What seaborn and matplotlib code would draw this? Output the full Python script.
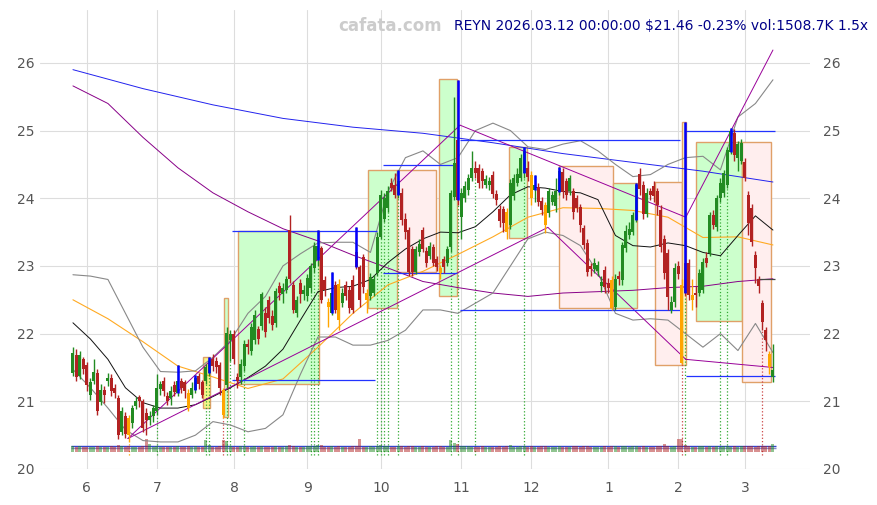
import matplotlib
matplotlib.use('Agg')
import matplotlib.pyplot as plt
from matplotlib.patches import Rectangle
import numpy as np
import seaborn as sns

# Daily OHLC, trading-day index 0 = 2025-05-27 ... 200 = 2026-03-12
opens = [21.42, 21.69, 21.38, 21.62, 21.54, 21.10, 21.30, 21.42, 20.99, 21.17,
         21.30, 21.35, 21.20, 21.05, 20.55, 20.78, 20.75, 20.68, 20.93, 21.06,
         21.00, 20.83, 20.73, 20.78, 20.85, 21.18, 21.30, 21.08, 21.05, 21.24,
         21.13, 21.30, 21.28, 21.13, 21.10, 21.17, 21.38, 21.28, 21.30, 21.42,
         21.62, 21.60, 21.53, 21.17, 21.24, 21.90, 21.99, 21.36, 21.36, 21.52,
         21.84, 21.75, 21.90, 22.07, 22.12, 22.31, 22.50, 22.26, 22.15, 22.70,
         22.58, 22.65, 23.53, 22.72, 22.30, 22.75, 22.58, 22.55, 22.68, 22.97,
         23.09, 23.27, 22.79, 22.46, 22.31, 22.72, 22.74, 22.45, 22.72, 22.65,
         22.79, 23.20, 22.98, 23.13, 22.50, 22.55, 22.60, 22.90, 23.43, 23.70,
         23.85, 24.22, 24.20, 24.05, 24.08, 23.70, 23.53, 23.25, 22.91, 23.20,
         23.53, 23.22, 23.15, 23.28, 23.10, 22.97, 23.10, 23.05, 23.28, 24.02,
         24.86, 23.73, 24.00, 24.12, 24.30, 24.45, 24.45, 24.40, 24.20, 24.20,
         24.35, 24.07, 23.84, 23.84, 23.80, 23.60, 24.03, 24.23, 24.30, 24.38,
         24.44, 24.35, 24.12, 24.17, 23.96, 23.90, 23.78, 23.95, 23.88, 24.09,
         24.39, 24.25, 24.10, 24.10, 24.00, 23.87, 23.56, 23.34, 23.00, 22.95,
         22.92, 22.70, 22.94, 22.75, 22.79, 22.40, 22.85, 22.79, 23.27, 23.45,
         23.50, 23.68, 24.36, 24.20, 23.77, 24.10, 24.18, 24.10, 23.83, 23.40,
         23.19, 22.35, 22.47, 23.00, 22.72, 23.05, 23.05, 22.50, 22.60, 22.60,
         22.65, 23.12, 23.19, 23.76, 23.58, 24.00, 24.08, 24.20, 24.69, 24.97,
         24.60, 24.55, 24.54, 24.05, 23.86, 23.16, 22.80, 22.45, 22.06, 21.70,
         21.36]
closes = [21.72, 21.36, 21.69, 21.47, 21.24, 21.29, 21.44, 20.85, 21.17, 21.10,
          21.35, 21.15, 21.12, 20.50, 20.85, 20.52, 20.50, 20.90, 21.00, 21.00,
          20.60, 20.73, 20.78, 20.90, 21.20, 21.25, 21.15, 21.00, 21.15, 21.14,
          21.30, 21.20, 21.15, 20.90, 21.20, 21.35, 21.25, 21.10, 21.50, 21.60,
          21.52, 21.50, 21.20, 20.80, 22.01, 22.00, 21.62, 21.30, 21.55, 21.84,
          21.80, 22.10, 22.28, 21.92, 22.58, 22.02, 22.23, 22.13, 22.63, 22.60,
          22.68, 22.80, 22.80, 22.35, 22.50, 22.58, 22.65, 22.82, 23.00, 23.30,
          23.30, 22.50, 22.65, 22.40, 22.60, 22.35, 22.20, 22.60, 22.55, 22.38,
          22.35, 22.99, 22.50, 22.69, 22.60, 22.84, 22.80, 23.43, 24.05, 24.00,
          24.10, 24.15, 24.05, 24.25, 23.68, 23.50, 22.91, 22.91, 23.25, 23.33,
          23.25, 23.05, 23.30, 23.05, 22.98, 22.90, 22.98, 23.25, 24.08, 24.52,
          23.98, 24.08, 24.18, 24.30, 24.44, 24.37, 24.22, 24.25, 24.28, 24.25,
          24.07, 23.98, 23.66, 23.63, 23.50, 24.23, 24.30, 24.36, 24.60, 24.70,
          24.32, 24.00, 24.20, 23.95, 23.82, 23.60, 24.10, 24.05, 24.10, 24.40,
          24.09, 24.05, 24.30, 23.80, 23.85, 23.61, 23.31, 22.91, 22.95, 23.05,
          23.02, 22.77, 22.69, 22.68, 22.38, 22.80, 22.80, 23.31, 23.52, 23.55,
          23.75, 24.20, 24.13, 23.77, 24.08, 24.05, 24.03, 23.90, 23.28, 22.90,
          22.54, 22.47, 22.97, 22.88, 21.57, 22.60, 22.57, 22.57, 22.57, 22.90,
          23.06, 23.04, 23.76, 23.61, 24.00, 24.22, 24.37, 24.71, 25.00, 24.64,
          24.80, 24.82, 24.30, 23.64, 23.36, 22.97, 22.70, 22.17, 21.90, 21.51,
          21.46]
highs = [21.80, 21.78, 21.75, 21.66, 21.58, 21.35, 21.62, 21.48, 21.25, 21.22,
         21.42, 21.40, 21.26, 21.10, 20.92, 20.84, 20.80, 20.95, 21.06, 21.10,
         21.04, 20.90, 20.85, 20.95, 21.40, 21.30, 21.36, 21.14, 21.22, 21.30,
         21.54, 21.35, 21.32, 21.18, 21.28, 21.39, 21.42, 21.32, 21.55, 21.66,
         21.70, 21.65, 21.58, 21.20, 22.10, 22.05, 22.05, 21.42, 21.62, 21.90,
         21.92, 22.15, 22.35, 22.12, 22.62, 22.40, 22.55, 22.35, 22.68, 22.76,
         22.75, 22.85, 23.75, 22.78, 22.55, 22.80, 22.72, 22.88, 23.05, 23.35,
         23.53, 23.30, 22.85, 22.52, 22.91, 22.78, 22.80, 22.68, 22.78, 22.70,
         22.86, 23.58, 23.02, 23.18, 22.66, 22.90, 22.86, 23.50, 24.12, 24.08,
         24.18, 24.30, 24.38, 24.42, 24.15, 23.78, 23.58, 23.30, 23.30, 23.40,
         23.58, 23.28, 23.36, 23.32, 23.15, 23.02, 23.15, 23.30, 24.12, 25.50,
         25.75, 24.15, 24.25, 24.36, 24.70, 24.55, 24.50, 24.45, 24.35, 24.32,
         24.40, 24.12, 23.90, 23.88, 23.85, 24.28, 24.36, 24.45, 24.65, 24.76,
         24.55, 24.40, 24.35, 24.22, 24.02, 23.95, 24.15, 24.10, 24.30, 24.46,
         24.45, 24.30, 24.35, 24.15, 24.05, 23.92, 23.60, 23.40, 23.05, 23.12,
         23.08, 22.85, 23.00, 22.82, 22.85, 22.88, 22.92, 23.36, 23.60, 23.65,
         23.80, 24.23, 24.45, 24.25, 24.15, 24.15, 24.25, 24.15, 23.90, 23.45,
         23.25, 22.55, 23.05, 23.08, 22.80, 25.13, 23.10, 22.80, 22.70, 22.96,
         23.12, 23.20, 23.80, 23.82, 24.05, 24.30, 24.42, 24.76, 25.04, 25.02,
         24.85, 24.88, 24.60, 24.10, 23.92, 23.22, 22.85, 22.50, 22.10, 21.75,
         21.85]
lows = [21.38, 21.30, 21.33, 21.40, 21.15, 21.02, 21.25, 20.80, 20.95, 20.98,
        21.22, 21.08, 21.05, 20.45, 20.50, 20.46, 20.40, 20.60, 20.88, 20.92,
        20.55, 20.50, 20.65, 20.70, 20.80, 21.10, 21.08, 20.95, 20.95, 21.08,
        21.08, 21.12, 21.05, 20.85, 21.05, 21.12, 21.18, 21.05, 21.25, 21.38,
        21.45, 21.42, 21.10, 20.75, 21.20, 21.60, 21.55, 21.20, 21.25, 21.45,
        21.70, 21.68, 21.85, 21.85, 22.05, 21.95, 22.15, 22.05, 22.10, 22.50,
        22.45, 22.60, 22.75, 22.30, 22.25, 22.45, 22.50, 22.48, 22.60, 22.90,
        23.00, 22.45, 22.55, 22.10, 22.28, 22.30, 22.05, 22.40, 22.50, 22.30,
        22.30, 22.95, 22.40, 22.60, 22.30, 22.50, 22.55, 22.85, 23.40, 23.65,
        23.80, 24.10, 24.00, 24.00, 23.60, 23.40, 22.85, 22.85, 22.88, 23.15,
        23.20, 22.98, 23.10, 23.00, 22.92, 22.80, 22.90, 23.00, 23.20, 23.98,
        23.90, 23.40, 23.95, 24.05, 24.25, 24.30, 24.15, 24.15, 24.15, 24.12,
        24.00, 23.90, 23.58, 23.50, 23.40, 23.55, 23.98, 24.18, 24.25, 24.30,
        24.25, 23.90, 23.95, 23.88, 23.75, 23.48, 23.72, 23.90, 23.80, 24.05,
        24.00, 23.98, 24.05, 23.70, 23.80, 23.50, 23.25, 22.85, 22.85, 22.90,
        22.85, 22.62, 22.60, 22.60, 22.35, 22.35, 22.72, 22.72, 23.20, 23.40,
        23.45, 23.65, 24.05, 23.70, 23.72, 23.98, 23.95, 23.75, 23.20, 22.80,
        22.35, 22.30, 22.40, 22.80, 21.55, 22.55, 22.50, 22.35, 22.40, 22.55,
        22.60, 22.98, 23.15, 23.55, 23.52, 23.95, 24.02, 24.15, 24.65, 24.55,
        24.40, 24.50, 24.25, 23.45, 23.30, 22.75, 22.60, 22.05, 21.75, 21.40,
        21.28]
volumes = [1050, 980, 1120, 900, 1010, 870, 950, 1200, 1000, 880,
           920, 1050, 860, 1300, 1100, 990, 1150, 1020, 900, 860,
           1100, 2300, 1400, 950, 1200, 900, 1000, 880, 940, 1010,
           1150, 900, 950, 1200, 980, 1100, 900, 1000, 2100, 1300,
           950, 900, 1100, 2100, 1900, 1200, 1000, 900, 1050, 1100,
           950, 1000, 1150, 900, 1200, 980, 1000, 900, 1150, 950,
           1000, 1050, 1300, 1100, 900, 1000, 950, 1050, 1200, 1100,
           1300, 1250, 950, 1000, 1100, 900, 1050, 1000, 950, 1000,
           1050, 1200, 2300, 1000, 950, 1050, 900, 1200, 1350, 1150,
           1050, 900, 1000, 1100, 1150, 1000, 1200, 1050, 950, 1000,
           1050, 900, 950, 1000, 1050, 1100, 900, 1000, 2200, 1700,
           1500, 1200, 1050, 1100, 1000, 950, 900, 1050, 1000, 900,
           1000, 950, 1100, 1000, 1050, 1250, 1000, 900, 1050, 1200,
           1000, 1050, 950, 1000, 1050, 1100, 950, 900, 1000, 1100,
           1000, 950, 900, 1050, 1100, 1000, 1150, 1100, 950, 1000,
           1000, 900, 1050, 950, 1100, 1050, 950, 1100, 1050, 1000,
           1100, 1150, 1000, 1050, 1000, 950, 900, 1050, 1200, 1500,
           1100, 950, 1050, 2300, 2300, 1300, 1050, 1000, 950, 1050,
           1100, 950, 1050, 1000, 1100, 950, 1050, 1100, 1000, 1050,
           1000, 1100, 1050, 1150, 1100, 1000, 1050, 1150, 1100, 1200,
           1509]
orange_days = [16, 33, 43, 73, 76, 84, 105, 124, 131, 135, 154, 174, 177, 199]
signal_days = [30, 35, 39, 70, 74, 81, 93, 110, 129, 132, 139, 161, 175, 188]
dot_days = [16, 24, 38, 39, 43, 44, 45, 49, 68, 69, 70, 87, 88, 89, 90, 93,
            108, 110, 115, 129, 174, 175, 185, 187, 197]
dot_kinds = ['o', 'g', 'g', 'g', 'r', 'g', 'g', 'g', 'g', 'g', 'g', 'g', 'g', 'g', 'g', 'g',
             'g', 'g', 'g', 'g', 'r', 'g', 'g', 'g', 'r']

month_ticks = [4, 24, 46, 67, 88, 111, 131, 153, 173, 192]
month_labels = ['6', '7', '8', '9', '10', '11', '12', '1', '2', '3']

# indicator lines
fast_idx = list(range(0, 201, 5))
fast_ma = [22.16, 21.92, 21.62, 21.20, 20.98, 20.90, 20.90, 20.95, 21.07, 21.20,
           21.35, 21.52, 21.77, 22.20, 22.62, 22.68, 22.70, 22.80, 23.05, 23.25,
           23.40, 23.50, 23.49, 23.58, 23.80, 24.05, 24.17, 24.15, 24.10, 24.08,
           23.98, 23.45, 23.30, 23.28, 23.34, 23.30, 23.20, 23.15, 23.45, 23.74,
           23.53]
band_upper = [22.87, 22.85, 22.80, 22.30, 21.80, 21.44, 21.43, 21.45, 21.65, 21.90,
              22.30, 22.55, 23.00, 23.18, 23.34, 23.35, 23.35, 23.20, 24.10, 24.60,
              24.70, 24.50, 24.60, 25.00, 25.11, 25.00, 24.76, 24.72, 24.80, 24.85,
              24.70, 24.50, 24.32, 24.35, 24.50, 24.60, 24.62, 24.42, 25.20, 25.40,
              25.75]
band_lower = [21.47, 21.20, 20.90, 20.58, 20.42, 20.40, 20.40, 20.50, 20.70, 20.65,
              20.55, 20.60, 20.80, 21.40, 21.95, 21.95, 21.83, 21.83, 21.90, 22.05,
              22.35, 22.35, 22.30, 22.45, 22.60, 23.00, 23.40, 23.50, 23.45, 23.30,
              22.90, 22.30, 22.20, 22.22, 22.20, 22.00, 21.80, 22.00, 21.75, 22.15,
              21.72]
mid_idx = list(range(0, 201, 10))
mid_ma = [22.50, 22.22, 21.88, 21.52, 21.36, 21.19, 21.33, 21.80, 22.30, 22.72,
          22.92, 23.17, 23.43, 23.72, 23.86, 23.85, 23.82, 23.72, 23.42, 23.43,
          23.31]
slow_ma = [25.66, 25.40, 24.90, 24.45, 24.08, 23.80, 23.55, 23.37, 23.16, 22.97,
           22.77, 22.68, 22.60, 22.55, 22.60, 22.62, 22.64, 22.68, 22.70, 22.77,
           22.81]
long_idx = list(range(0, 201, 20))
long_ma = [25.90, 25.62, 25.38, 25.18, 25.05, 24.96, 24.82, 24.66, 24.53, 24.40, 24.24]

# zones
box_start = [37.1, 43.1, 47.1, 84.3, 92.6, 104.6, 124.6, 138.9, 154.3, 166.3, 174.0, 178.0, 191.1]
box_end = [39.1, 44.3, 70.3, 92.6, 103.7, 109.7, 129.7, 154.3, 161.1, 174.0, 175.1, 191.1, 199.4]
box_low = [20.90, 20.77, 21.26, 22.38, 22.91, 22.56, 23.42, 22.38, 22.38, 21.54, 21.54, 22.19, 21.29]
box_high = [21.66, 22.53, 23.52, 24.42, 24.42, 25.76, 24.76, 24.48, 24.23, 24.24, 25.13, 24.83, 24.83]
box_kind = ['y', 'g', 'g', 'g', 'r', 'g', 'g', 'r', 'g', 'r', 'y', 'g', 'r']

# trend lines (start idx, start price, end idx, end price)
trend_x0 = [15.7, 110.6, 175.1, 15.7, 135.7, 175.1]
trend_y0 = [20.45, 25.08, 23.72, 20.45, 23.57, 21.62]
trend_x1 = [110.6, 175.1, 200.0, 135.7, 175.1, 200.0]
trend_y1 = [25.08, 23.72, 26.19, 23.57, 21.62, 21.50]

# horizontal levels
level_y = [23.52, 21.32, 24.49, 22.90, 24.86, 22.35, 25.00, 21.38, 22.80]
level_x0 = [45.4, 45.4, 88.6, 88.6, 110.6, 110.6, 175.1, 175.1, 195.5]
level_x1 = [87.0, 86.3, 109.7, 109.7, 173.4, 173.4, 200.6, 200.6, 200.6]
level_col = ['b', 'b', 'b', 'b', 'b', 'b', 'b', 'b', 'k']

GREEN = '#228B22'
RED = '#B22222'
ORANGE = '#FFA500'

sns.set_theme(style='white')
plt.rcParams['font.family'] = ['DejaVu Sans']

fig, ax = plt.subplots(figsize=(8.78, 5.05), dpi=100)
fig.subplots_adjust(left=0.0456, right=0.9226, bottom=0.0713, top=0.980)

# zones
fills = {'g': '#ccffcc', 'r': '#ffeeee', 'y': '#f6f68a'}
for x0, x1, lo, hi, k in zip(box_start, box_end, box_low, box_high, box_kind):
    fc = fills[k] if not (k == 'y' and x1 - x0 < 1.5) else '#fbfbc4'
    ax.add_patch(Rectangle((x0, lo), x1 - x0, hi - lo, facecolor=fc,
                           edgecolor='#e0a068', linewidth=1.0, zorder=1))

idx = np.arange(len(closes))
o = np.array(opens)
c = np.array(closes)
h = np.array(highs)
l = np.array(lows)

# dotted signal lines
dot_map = {'g': '#33aa33', 'r': '#cc4444', 'o': ORANGE}
ax.vlines(dot_days, 20.2, l[dot_days], colors=[dot_map[k] for k in dot_kinds],
          linestyles=':', linewidth=0.9, zorder=1.5)

# volume strip
ax.hlines([20.345, 20.315], -0.5, 200.8, colors=['#3344cc', '#8888cc'], linewidth=1.0, zorder=2.0)
vol_cols = [GREEN if c[i] >= o[i] else RED for i in idx]
ax.bar(idx, np.array(volumes) * 0.085 / 1000, bottom=20.245, width=0.85,
       color=vol_cols, alpha=0.5, linewidth=0, zorder=2.2)

# indicators
sns.lineplot(x=long_idx, y=long_ma, ax=ax, color='#2222ee', linewidth=0.7, zorder=2.5)
sns.lineplot(x=mid_idx, y=slow_ma, ax=ax, color='#880088', linewidth=0.7, zorder=2.5)
sns.lineplot(x=mid_idx, y=mid_ma, ax=ax, color='#ffaa22', linewidth=0.8, zorder=2.5)
sns.lineplot(x=fast_idx, y=band_upper, ax=ax, color='#888888', linewidth=0.8, zorder=2.5)
sns.lineplot(x=fast_idx, y=band_lower, ax=ax, color='#888888', linewidth=0.8, zorder=2.5)
sns.lineplot(x=fast_idx, y=fast_ma, ax=ax, color='#111111', linewidth=0.7, zorder=2.5)

for x0, y0, x1, y1 in zip(trend_x0, trend_y0, trend_x1, trend_y1):
    ax.plot([x0, x1], [y0, y1], color='#990099', linewidth=0.7, zorder=2.6)

lvl_map = {'b': '#2233ff', 'k': '#444444'}
ax.hlines(level_y, level_x0, level_x1, colors=[lvl_map[k] for k in level_col],
          linewidth=0.9, zorder=2.7)

# candles
cols = [GREEN if c[i] >= o[i] else RED for i in idx]
for i in orange_days:
    cols[i] = ORANGE
ax.vlines(idx, l, h, colors=cols, linewidth=1.0, zorder=3)
body = np.maximum(np.abs(c - o), 0.02)
ax.bar(idx, body, bottom=np.minimum(o, c), width=0.85, color=cols, linewidth=0, zorder=4)
ax.vlines(signal_days, np.minimum(o, c)[signal_days], h[signal_days],
          colors='#0000ff', linewidth=1.8, zorder=5)

ax.set_xlim(-9.4, 210.6)
ax.set_ylim(20, 26.78)
ax.set_xticks(month_ticks, month_labels)
ax.set_yticks(range(20, 27))
ax.grid(True, color='#dddddd', linewidth=0.8)
ax.set_axisbelow(True)
ax.tick_params(axis='both', length=0, labelsize=10, labelcolor='#555555')
ax.tick_params(axis='x', pad=9)
ax.tick_params(axis='y', pad=4)
sns.despine(ax=ax, left=True, bottom=True)

ax2 = ax.twinx()
ax2.set_ylim(ax.get_ylim())
ax2.set_yticks(range(20, 27))
ax2.tick_params(axis='y', length=0, labelsize=10, labelcolor='#555555', pad=9)
ax2.grid(False)
sns.despine(ax=ax2, left=True, bottom=True, right=True)

fig.text(338 / 878, 1 - 26 / 505, 'cafata.com', fontsize=12, fontweight='bold',
         color='#cccccc', ha='left', va='center')
fig.text(868 / 878, 1 - 26 / 505, 'REYN 2026.03.12 00:00:00 $21.46 -0.23% vol:1508.7K 1.5x',
         fontsize=10, color='#000088', ha='right', va='center')

fig.savefig('out.png', dpi=100)
